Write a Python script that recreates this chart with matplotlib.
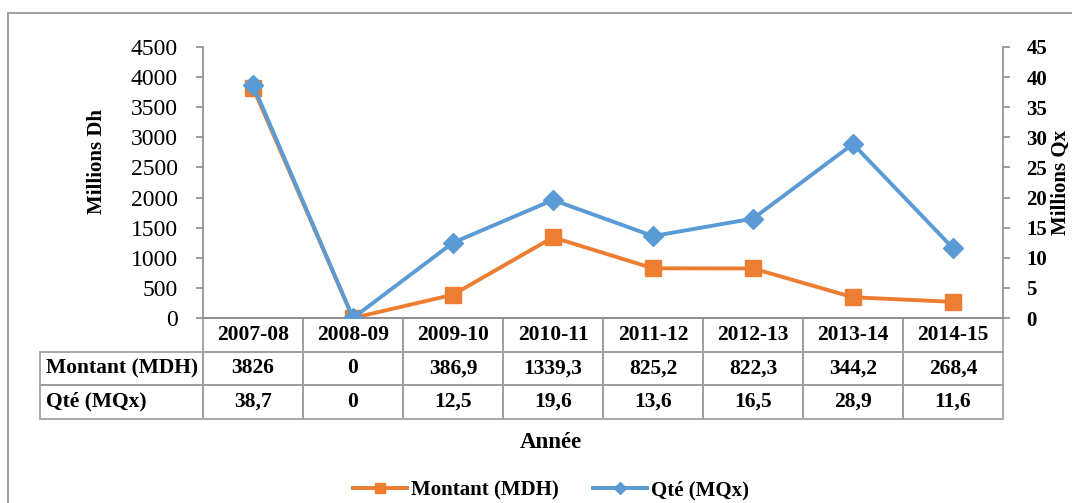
import matplotlib
matplotlib.use("Agg")
import matplotlib.pyplot as plt
from matplotlib.patches import Rectangle

# data
years = ["2007-08", "2008-09", "2009-10", "2010-11", "2011-12", "2012-13", "2013-14", "2014-15"]
montant = [3826, 0, 386.9, 1339.3, 825.2, 822.3, 344.2, 268.4]
qte = [38.7, 0, 12.5, 19.6, 13.6, 16.5, 28.9, 11.6]
montant_txt = ["3826", "0", "386,9", "1339,3", "825,2", "822,3", "344,2", "268,4"]
qte_txt = ["38,7", "0", "12,5", "19,6", "13,6", "16,5", "28,9", "11,6"]
row_labels = ["Montant (MDH)", "Qté (MQx)"]

plt.rcParams["font.family"] = ["Liberation Serif", "DejaVu Serif"]

W, H = 1072, 503
fig = plt.figure(figsize=(W / 100, H / 100), dpi=100)
grey = "#8c8c8c"
orange = "#ED7D31"
blue = "#5B9BD5"

# outer frame of the chart
fig.patches.append(Rectangle((8 / W, -0.1), 2, 1 - 13 / H + 0.1, transform=fig.transFigure,
                             fill=False, edgecolor="#999999", lw=1.3))

left, right, top, bottom = 203, 1003, 47, 318
ax = fig.add_axes([left / W, 1 - bottom / H, (right - left) / W, (bottom - top) / H])
ax2 = ax.twinx()

x = list(range(len(years)))
ax.plot(x, montant, color=orange, lw=2.8, marker="s", markersize=12, zorder=3,
        label="Montant (MDH)")
ax2.plot(x, qte, color=blue, lw=2.8, marker="D", markersize=10, zorder=3,
         label="Qté (MQx)")

ax.set_xlim(-0.5, 7.5)
ax.set_ylim(0, 4500)
ax2.set_ylim(0, 45)
ax.set_yticks(range(0, 4501, 500))
ax2.set_yticks(range(0, 46, 5))
ax.set_xticks([])

for a in (ax, ax2):
    a.spines["top"].set_visible(False)
    for s in a.spines.values():
        s.set_color(grey)
        s.set_linewidth(1.2)
ax.spines["right"].set_visible(False)
ax2.spines["left"].set_visible(False)
ax2.spines["bottom"].set_visible(False)

ax.tick_params(axis="y", direction="out", length=5, width=1.2, color=grey, pad=13,
               labelsize=17)
ax2.tick_params(axis="y", direction="out", length=5, width=1.2, color=grey, pad=12,
                labelsize=15)
for t in ax2.get_yticklabels():
    t.set_fontweight("bold")

fig.text(97 / W, 1 - 161 / H, "Millions Dh", rotation=90, ha="center", va="center",
         fontsize=15, fontweight="bold")
fig.text(1061 / W, 1 - 182 / H, "Millions Qx", rotation=90, ha="center", va="center",
         fontsize=15, fontweight="bold")

# data table under the axes, in data x / axes y coordinates
tr = ax.get_xaxis_transform()
ax_h = bottom - top
row_h = 33.5 / ax_h
lab_x0 = -0.5 - (left - 40) / 100.0   # row label column starts at px 40
edge = "#a0a0a0"


def cell(x0, y0, w, h):
    ax.add_patch(Rectangle((x0, y0), w, h, transform=tr, fill=False, edgecolor=edge,
                           lw=1.3, clip_on=False))


tkw = dict(transform=tr, fontsize=15.5, fontweight="bold", va="center", clip_on=False)
for j, yr in enumerate(years):
    cell(j - 0.5, -row_h, 1, row_h)
    ax.text(j, -0.5 * row_h, yr, ha="center", **tkw)
for i, (lab, vals) in enumerate(zip(row_labels, [montant_txt, qte_txt])):
    yc = -(i + 1.5) * row_h
    cell(lab_x0, -(i + 2) * row_h, -0.5 - lab_x0, row_h)
    ax.text(lab_x0 + 0.065, yc, lab, ha="left", **tkw)
    for j, v in enumerate(vals):
        cell(j - 0.5, -(i + 2) * row_h, 1, row_h)
        ax.text(j, yc, v, ha="center", **tkw)

fig.text(551 / W, 1 - 443 / H, "Année", ha="center", va="center", fontsize=16.5,
         fontweight="bold")

h1, l1 = ax.get_legend_handles_labels()
h2, l2 = ax2.get_legend_handles_labels()
fig.legend(h1 + h2, l1 + l2, loc="center", bbox_to_anchor=(551 / W, 1 - 490 / H),
           ncol=2, frameon=False, prop={"weight": "bold", "size": 15},
           handlelength=2.6, columnspacing=1.6, handletextpad=0.2, markerscale=0.6)

fig.savefig("out.png", dpi=100)
